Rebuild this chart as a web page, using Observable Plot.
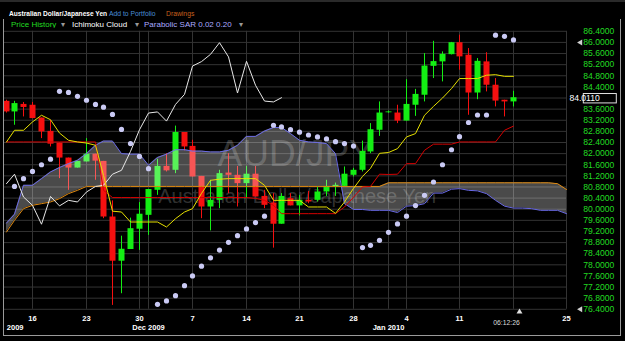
<!DOCTYPE html>
<html><head><meta charset="utf-8">
<script src="https://cdn.jsdelivr.net/npm/d3@7"></script>
<script src="https://cdn.jsdelivr.net/npm/@observablehq/plot@0.6"></script>
<style>
html,body{margin:0;padding:0;background:#000;}
body{width:625px;height:341px;position:relative;overflow:hidden;font-family:"Liberation Sans",Arial,sans-serif;}
.h{position:absolute;white-space:nowrap;line-height:1;}
#chart{position:absolute;left:0;top:28px;}
#mask{position:absolute;left:0;top:28px;width:3px;height:313px;background:#000;}
#frame{position:absolute;left:3px;top:19px;width:616px;height:316px;border:1px solid #9a9a9a;border-top:none;pointer-events:none;}
#topbar{position:absolute;left:0;top:0;width:625px;height:2px;background:#2a2a2a;}
</style></head><body>
<div id="topbar"></div>
<span class="h" style="left:9px;top:11px;font-size:6.6px;font-weight:bold;color:#fff">Australian Dollar/Japanese Yen</span>
<span class="h" style="left:109px;top:11px;font-size:6.8px;color:#4a8fd8">Add to Portfolio</span>
<span class="h" style="left:166px;top:11px;font-size:6.8px;color:#c8601e">Drawings</span>
<span class="h" style="left:11px;top:20.5px;font-size:8px;color:#22dd22">Price History</span>
<span class="h" style="left:61px;top:20.5px;font-size:8px;color:#999">▾</span>
<span class="h" style="left:72px;top:20.5px;font-size:8px;color:#fff">Ichimoku Cloud</span>
<span class="h" style="left:135px;top:20.5px;font-size:8px;color:#999">▾</span>
<span class="h" style="left:144px;top:20.5px;font-size:8px;color:#aaaaff">Parabolic SAR 0.02 0.20</span>
<span class="h" style="left:239px;top:20.5px;font-size:8px;color:#999">▾</span>
<div id="chart"></div>
<div id="mask"></div>
<div id="frame"></div>
<script>
// ---- tick labels / axes data ----
const priceTicks = [76.4, 76.8, 77.2, 77.6, 78.0, 78.4, 78.8, 79.2, 79.6, 80.0, 80.4, 80.8, 81.2, 81.6, 82.0, 82.4, 82.8, 83.2, 83.6, 84.0, 84.4, 84.8, 85.2, 85.6, 86.0, 86.4];
const dayTicks = [0, 6, 12, 18, 24, 30, 36, 42, 48, 60];
const dayLabels = ["16", "23", "30", "7", "14", "21", "28", "4", "11", "25"];
const monthTicks = [13, 40];
const monthLabels = ["Dec 2009", "Jan 2010"];
const firstMonthTick = -1;          // the cut "...2009" label at the left edge
const firstMonthLabel = "2009";
const gridTicks = [0, 6, 12, 13, 18, 24, 30, 36, 40, 42, 48, 54, 60];
const extremeMarkers = [86.0, 76.4];
const timeLabel = "06:12:26";
const timeLabelIndex = 53.25;
const nowIndex = 54.72;
const lastPrice = 84.011;

// ---- bar index (trading-day slots, 0 = Mon 16 Nov 2009) ----
const dayIndex = d3.range(-3, 55);      // candles
const cloudIndex = d3.range(-3, 61);    // cloud is projected forward

// ---- OHLC ----
const open = [83.88,83.50,83.77,83.74,83.28,82.80,82.38,81.84,81.48,81.70,
  81.98,81.72,79.72,78.13,78.55,79.28,79.78,80.68,81.54,81.40,
  82.76,82.26,81.18,80.08,80.32,81.30,81.22,80.92,81.26,80.46,
  80.22,79.46,80.38,80.12,80.32,80.32,80.62,80.80,80.82,81.22,
  81.40,82.06,82.84,83.47,83.46,83.17,83.74,84.10,85.14,85.30,
  85.56,85.99,85.54,84.18,85.30,84.46,83.92,83.86];
const high = [83.92,83.88,83.84,83.84,83.28,83.20,82.38,81.84,81.72,82.54,
  81.98,81.72,80.30,79.03,79.68,80.24,80.71,81.80,82.00,82.99,
  82.76,82.48,81.18,81.04,81.40,82.00,81.54,81.54,81.54,80.68,
  80.56,80.56,80.56,80.50,80.64,80.80,81.04,80.94,81.52,81.47,
  82.45,83.08,83.86,83.53,83.74,84.66,84.31,85.60,86.04,85.66,
  86.00,86.26,85.78,85.42,85.63,84.70,83.92,84.24];
const low = [83.46,83.02,83.32,83.26,82.54,82.24,81.10,80.68,81.48,81.70,
  81.04,79.66,76.54,76.96,78.55,78.52,79.06,80.50,81.34,81.28,
  82.10,81.16,79.66,79.22,80.02,80.56,80.08,80.38,80.44,80.02,
  78.60,79.46,80.12,79.76,80.20,80.26,80.46,80.46,80.80,81.16,
  81.34,82.00,82.62,83.45,83.08,83.17,83.34,83.86,84.70,84.58,
  85.55,85.00,83.38,83.94,84.22,83.68,83.32,83.68];
const close = [83.50,83.80,83.66,83.26,82.78,82.34,81.84,81.48,81.72,81.98,
  81.73,79.72,78.13,78.56,79.30,79.82,80.71,81.54,81.38,82.76,
  82.24,81.16,80.08,80.32,81.28,81.22,80.92,81.26,80.44,80.14,
  79.46,80.46,80.12,80.32,80.26,80.62,80.82,80.86,81.26,81.40,
  82.08,82.86,83.46,83.50,83.17,83.77,84.13,85.15,85.31,85.57,
  85.99,85.48,84.18,85.32,84.46,83.89,83.86,84.011];

// ---- Ichimoku ----
const tenkan = [82.42,82.84,82.84,83.14,83.38,83.22,82.74,82.48,82.42,82.38,
  82.30,81.22,79.93,79.90,79.54,79.54,79.54,79.54,79.36,79.66,
  79.90,80.02,80.57,81.04,81.08,81.10,81.10,81.10,81.10,80.86,
  80.32,80.32,80.32,80.32,80.08,80.08,80.08,79.85,80.26,80.75,
  81.18,81.47,82.01,82.04,82.18,82.60,82.72,83.38,83.70,84.00,
  84.34,84.70,84.70,84.70,84.82,84.84,84.78,84.78];
const kijun = [82.42,82.42,82.42,82.42,82.42,82.42,82.42,82.42,82.42,82.42,
  82.42,80.68,80.42,80.42,80.42,80.42,80.42,80.42,80.42,80.42,
  80.42,80.42,80.42,80.42,80.42,80.42,80.42,80.42,80.39,80.32,
  80.14,79.84,79.84,79.84,79.84,79.84,79.84,79.84,80.08,80.43,
  80.80,80.82,81.26,81.25,81.26,81.64,81.64,82.12,82.34,82.34,
  82.34,82.42,82.42,82.42,82.42,82.42,82.84,82.99];
const senkouA = [79.50,79.82,80.86,80.86,81.10,81.34,81.50,81.64,81.76,82.00,
  82.30,82.45,82.45,82.00,81.98,81.98,81.58,81.86,81.98,82.14,
  82.14,82.09,82.09,82.06,82.06,82.12,82.30,82.62,82.62,82.81,
  82.94,82.94,82.72,82.48,82.42,82.40,82.36,82.00,80.20,79.99,
  79.99,79.96,79.96,79.96,79.88,80.11,80.13,80.20,80.58,80.58,
  80.72,80.74,80.68,80.66,80.56,80.32,80.11,80.04,80.04,80.02,
  79.96,79.96,79.96,79.84];
const senkouB = [79.18,79.60,80.02,80.14,80.20,80.26,80.38,80.56,80.68,80.82,
  80.82,80.82,80.82,80.82,80.82,80.82,80.82,80.82,80.82,80.82,
  80.82,80.82,80.82,80.82,80.82,80.82,80.82,80.82,80.82,80.82,
  80.82,80.82,80.82,80.82,80.82,80.82,80.82,80.82,80.82,80.82,
  80.82,80.82,80.82,80.95,80.95,80.95,80.95,80.95,80.95,80.95,
  80.95,80.95,80.95,80.95,80.95,80.95,80.95,80.95,80.95,80.95,
  80.95,80.95,80.92,80.71];
// Chikou span: the close plotted 26 bars back
const chikouShift = 26;

// ---- Parabolic SAR ----
const sar = [null,80.82,81.10,81.36,81.60,81.80,84.24,84.20,84.06,83.92,
  83.77,83.67,83.41,82.87,82.36,81.90,81.46,76.58,76.70,76.89,
  77.25,77.60,77.95,78.25,78.53,78.81,79.05,79.29,79.52,79.75,
  83.02,82.96,82.86,82.77,82.67,82.60,82.53,82.43,82.36,82.27,
  78.62,78.70,78.88,79.17,79.47,79.75,80.13,80.50,80.98,81.60,
  82.14,82.61,83.12,83.39,83.39,86.26,86.22,86.09];

// ---- tables built from the arrays ----
const bars = dayIndex.map((t, i) => ({t, open: open[i], high: high[i], low: low[i], close: close[i],
  tenkan: tenkan[i], kijun: kijun[i], sar: sar[i]}));
const cloud = cloudIndex.map((t, i) => ({t, a: senkouA[i], b: senkouB[i]}));
const chikou = dayIndex.slice(0, dayIndex.length - chikouShift).map((t, i) => ({t, v: close[i + chikouShift]}));
// the last-price box replaces the nearby 84.0000 label, as in the reference
const labelTicks = priceTicks.filter(v => Math.abs(v - lastPrice) > 0.2);

const UP = "#14ee14", DOWN = "#f41010";
const W = 625, H = 313;
const mL = 3, mR = 58.7, mT = 2.8, mB = 32.2;
const xDomain = [-3.2921, 60];
const font = "'Liberation Sans', Arial, sans-serif";

const chart = Plot.plot({
  width: W, height: H,
  marginLeft: mL, marginRight: mR, marginTop: mT, marginBottom: mB,
  x: {domain: xDomain, axis: null, round: true},
  y: {domain: [76.4, 86.4], axis: null},
  style: {background: "#000", color: "#fff", fontFamily: font, fontSize: "8px", overflow: "visible"},
  marks: [
    Plot.gridY(priceTicks, {stroke: "#333", strokeOpacity: 1}),
    Plot.gridX(gridTicks, {stroke: "#333", strokeOpacity: 1}),
    Plot.text(["AUD/JPY"], {text: d => d, frameAnchor: "middle", dx: 10.5, dy: -16.5, fontSize: 37, fill: "#fff", fillOpacity: 0.2}),
    Plot.text(["Australian Dollar/Japanese Yen"], {text: d => d, frameAnchor: "middle", dx: 12, dy: 26.5, fontSize: 20, fill: "#fff", fillOpacity: 0.2}),
    Plot.ruleX(bars, {x: "t", y1: "low", y2: "high", stroke: d => d.close >= d.open ? UP : DOWN, strokeWidth: 1}),
    Plot.ruleX(bars, {x: "t", y1: "open", y2: "close", stroke: d => d.close >= d.open ? UP : DOWN, strokeWidth: 6}),
    Plot.areaY(cloud, {x: "t", y1: "a", y2: "b", fill: "#fff", fillOpacity: 0.29}),
    Plot.line(cloud, {x: "t", y: "a", stroke: "#6a6ae6", strokeWidth: 1}),
    Plot.line(cloud, {x: "t", y: "b", stroke: "#e08a10", strokeWidth: 1}),
    Plot.line(chikou, {x: "t", y: "v", stroke: "#e8e8e8", strokeWidth: 1}),
    Plot.line(bars, {x: "t", y: "kijun", stroke: "#d40000", strokeWidth: 1}),
    Plot.line(bars, {x: "t", y: "tenkan", stroke: "#e6e000", strokeWidth: 1}),
    Plot.dot(bars.filter(d => d.sar != null), {x: "t", y: "sar", r: 2.6, fill: "#cacaf4", stroke: null}),
    Plot.axisY(labelTicks, {anchor: "right", label: null, tickSize: 0, tickPadding: 16.5,
      tickFormat: d => d.toFixed(4), color: "#22dd22", fill: "#22dd22", fontSize: 8.6, fontFamily: font}),
    Plot.text(dayTicks, {x: d => d, text: (d, i) => dayLabels[i], frameAnchor: "bottom", dy: 11.2,
      fill: "#fff", fontSize: 7.5, fontWeight: "bold"}),
    Plot.text(monthTicks, {x: d => d, text: (d, i) => monthLabels[i], frameAnchor: "bottom", dy: 20.5,
      fill: "#fff", fontSize: 7.5, fontWeight: "bold"}),
    Plot.text([firstMonthTick], {x: d => d, text: () => firstMonthLabel, textAnchor: "end", frameAnchor: "bottom", dy: 20.5,
      fill: "#fff", fontSize: 7.5, fontWeight: "bold"}),
    Plot.text([timeLabelIndex], {x: d => d, text: () => timeLabel, frameAnchor: "bottom", dy: 16,
      fill: "#ddd", fontSize: 6.8}),
    Plot.dot([nowIndex], {x: d => d, frameAnchor: "bottom", dy: 2.5, symbol: "triangle", r: 2.2, fill: "#e0e0e0", stroke: null}),
    Plot.dot(extremeMarkers, {x: 61.5, y: d => d, symbol: "triangle", rotate: -90, r: 2.2, fill: "#cfcfcf", stroke: null})
  ]
});
document.getElementById("chart").appendChild(chart);

// last-price box on the right axis, placed with the chart's own y scale
const yPix = chart.scale("y").apply(lastPrice) + 1;
const xPix = W - mR + 16.5;
const g = d3.select(chart).append("g");
g.append("rect").attr("x", xPix + 0.5).attr("y", yPix - 4.7).attr("width", 33).attr("height", 9.4)
  .attr("fill", "#000").attr("stroke", "#e0e0e0").attr("stroke-width", 1);
g.append("text").attr("x", xPix + 1.8).attr("y", yPix).attr("dy", "0.35em").attr("fill", "#fff")
  .attr("font-size", 8.6).attr("font-family", font).text(lastPrice.toFixed(4));
</script>
</body></html>
